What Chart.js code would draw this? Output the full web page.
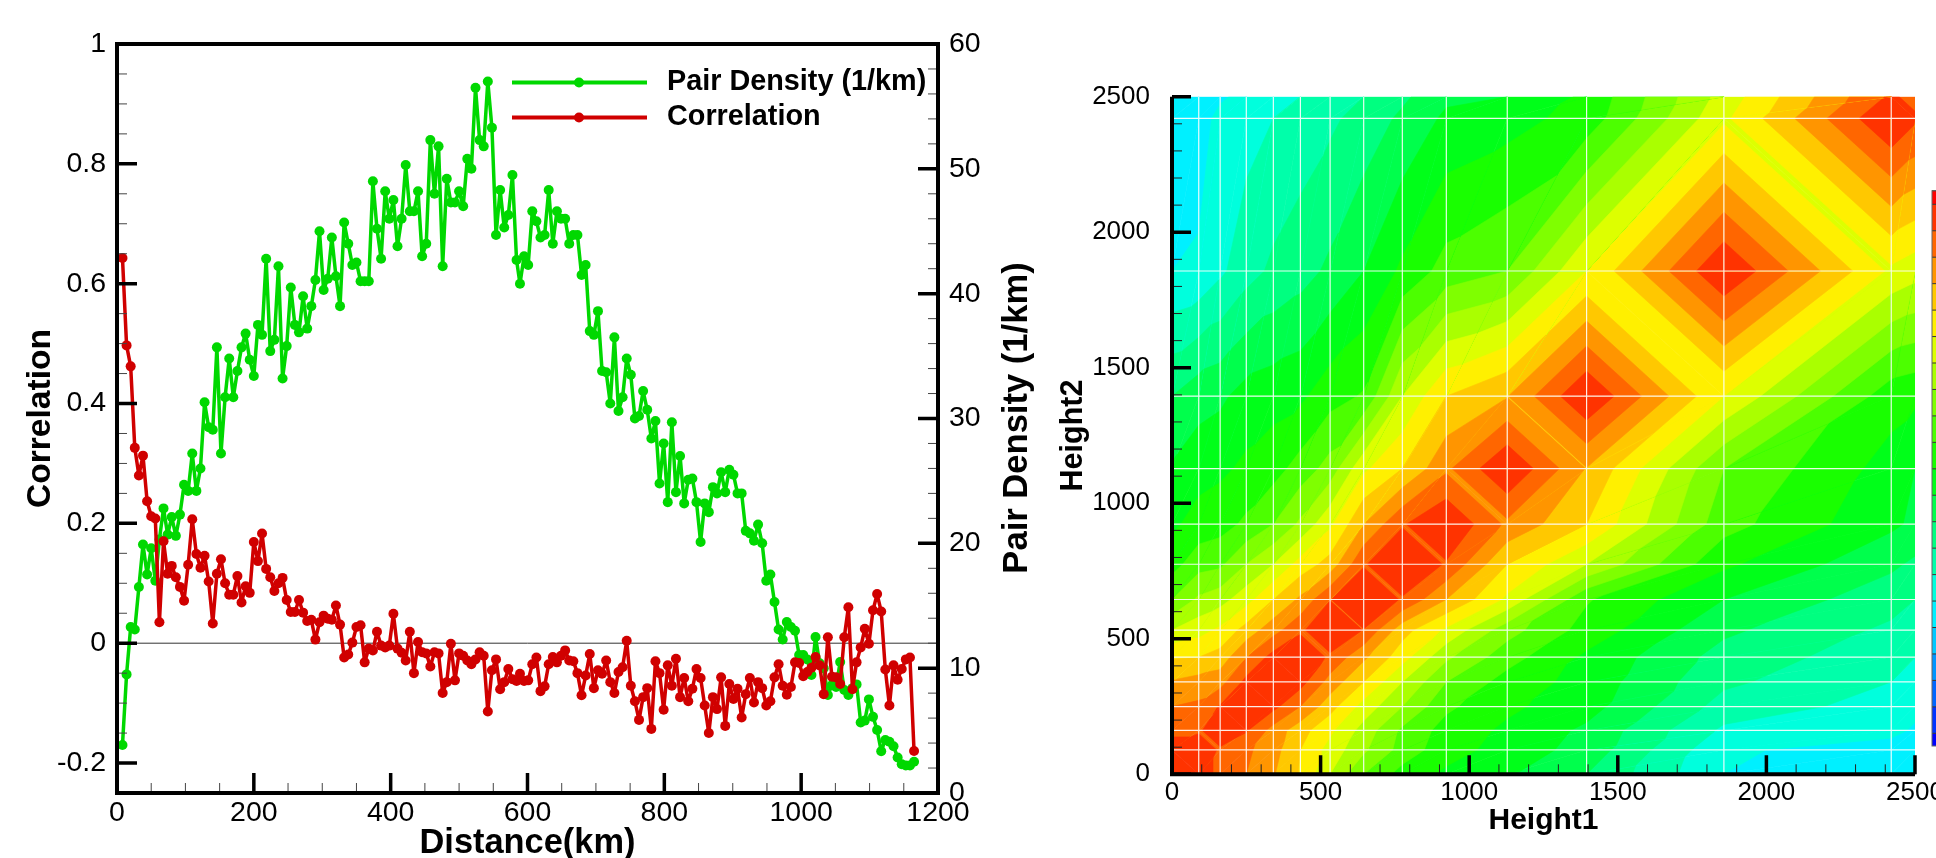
<!DOCTYPE html>
<html>
<head>
<meta charset="utf-8">
<title>Correlation and pair density</title>
<script src="https://cdn.jsdelivr.net/npm/chart.js@4/dist/chart.umd.min.js"></script>
<style>
  html, body { margin: 0; padding: 0; background: #fff; overflow: hidden; }
  canvas { position: absolute; top: 0; }
  #lineChart { left: 0; }
  #contourChart { left: 1036px; }
</style>
</head>
<body>
<canvas id="lineChart" width="1036" height="858"></canvas>
<canvas id="contourChart" width="960" height="858"></canvas>
<script>
// distance of each sample, km
const distance = [
  8,14,20,26,32,38,44,50,56,62,68,74,80,86,92,98,104,110,116,122,
  128,134,140,146,152,158,164,170,176,182,188,194,200,206,212,218,224,230,236,242,
  248,254,260,266,272,278,284,290,296,302,308,314,320,326,332,338,344,350,356,362,
  368,374,380,386,392,398,404,410,416,422,428,434,440,446,452,458,464,470,476,482,
  488,494,500,506,512,518,524,530,536,542,548,554,560,566,572,578,584,589,595,601,
  607,613,619,625,631,637,643,649,655,661,667,673,679,685,691,697,703,709,715,721,
  727,733,739,745,751,757,763,769,775,781,787,793,799,805,811,817,823,829,835,841,
  847,853,859,865,871,877,883,889,895,901,907,913,919,925,931,937,943,949,955,961,
  967,973,979,985,991,997,1003,1009,1015,1021,1027,1033,1039,1045,1051,1057,1063,1069,1075,1081,
  1087,1093,1099,1105,1111,1117,1123,1129,1135,1141,1147,1153,1159,1165
];
const pairDensity = [
  3.85,9.5,13.3,13.1,16.5,19.9,17.5,19.6,17.0,20.3,22.8,20.7,22.1,20.6,22.3,24.7,24.2,27.2,24.2,26.0,
  31.3,29.3,29.1,35.7,27.2,31.7,34.8,31.7,33.8,35.7,36.8,34.7,33.4,37.5,36.7,42.8,35.4,36.3,42.2,33.2,
  35.8,40.5,37.5,36.9,39.8,37.2,39.0,41.1,45.0,40.3,41.2,44.5,41.4,39.0,45.7,44.0,42.3,42.5,41.0,41.0,
  41.0,49.0,45.2,42.8,48.2,46.0,47.5,43.8,46.0,50.3,46.6,46.6,48.2,43.0,44.0,52.3,48.0,51.8,42.2,49.2,
  47.3,47.3,48.2,47.0,50.8,50.0,56.5,52.3,51.8,57.0,53.3,44.7,48.3,45.3,46.3,49.5,42.7,40.8,43.0,42.3,
  46.6,45.8,44.5,44.7,48.3,44.0,46.6,46.0,46.0,44.0,44.7,44.7,41.5,42.3,37.0,36.7,38.6,33.8,33.7,31.2,
  36.5,30.6,31.7,34.8,33.5,30.0,30.2,32.2,30.7,28.4,29.8,24.8,28.0,23.3,29.7,24.1,27.0,23.2,25.1,25.2,
  23.3,20.1,23.2,22.5,24.5,24.0,25.7,24.1,25.9,25.5,24.0,24.0,21.0,20.8,20.2,21.5,20.0,17.0,17.5,15.3,
  13.1,12.3,13.7,13.3,13.0,11.05,11.05,10.7,9.45,12.5,10.4,10.0,7.85,8.65,8.5,10.5,8.25,7.85,8.4,8.7,
  5.65,5.8,7.5,6.1,5.05,3.35,4.25,4.1,3.75,2.85,2.3,2.2,2.2,2.5
];
const correlation = [
  .643,.497,.462,.326,.280,.313,.237,.212,.208,.035,.170,.116,.129,.110,.094,.071,.131,.207,.149,.126,
  .146,.103,.033,.116,.140,.100,.081,.081,.112,.068,.095,.084,.169,.137,.183,.124,.110,.087,.100,.109,
  .072,.052,.052,.072,.051,.037,.039,.006,.035,.046,.041,.039,.063,.031,-.024,-.019,.001,.027,.030,-.032,
  -.009,-.012,.019,-.004,-.007,-.004,.049,-.009,-.016,-.029,.019,-.050,.002,-.015,-.017,-.039,-.015,-.017,-.083,-.065,
  -.001,-.062,-.017,-.021,-.029,-.035,-.027,-.015,-.021,-.114,-.045,-.027,-.077,-.065,-.043,-.060,-.063,-.051,-.063,-.062,
  -.035,-.024,-.080,-.072,-.035,-.023,-.032,-.021,-.012,-.029,-.030,-.050,-.087,-.054,-.018,-.075,-.045,-.051,-.029,-.065,
  -.083,-.048,-.040,.004,-.071,-.097,-.128,-.090,-.075,-.143,-.030,-.050,-.111,-.037,-.071,-.026,-.090,-.058,-.097,-.076,
  -.043,-.058,-.104,-.150,-.090,-.110,-.057,-.138,-.068,-.093,-.076,-.124,-.085,-.058,-.099,-.065,-.075,-.104,-.097,-.057,
  -.035,-.071,-.086,-.073,-.032,-.033,-.055,-.048,-.041,-.023,-.037,-.085,.010,-.056,-.057,-.068,.010,.060,-.077,-.032,
  -.007,.024,-.001,.055,.082,.053,-.044,-.104,-.037,-.061,-.043,-.027,-.024,-.180
];
const xTicks = [0, 200, 400, 600, 800, 1000, 1200];
const yTicks = [-0.2, 0, 0.2, 0.4, 0.6, 0.8, 1];
const y2Ticks = [0, 10, 20, 30, 40, 50, 60];

// height levels of the contour grid
const heights = [0, 90, 162, 250, 341, 432, 532, 645, 775, 923, 1128, 1395, 1857, 2420, 2500];
// upper triangle of the height/height correlation, one row per height
const corrRows = [
  [.97,.97,.94,.90,.855,.795,.70,.60,.53,.49,.455,.40,.25,.22,.20],
  [1,.94,.91,.87,.80,.73,.66,.58,.52,.48,.43,.26,.22,.21],
  [1,.955,.88,.82,.76,.68,.59,.53,.49,.44,.29,.27,.24],
  [1,.965,.90,.82,.73,.65,.56,.51,.47,.33,.28,.27],
  [1,.97,.88,.80,.70,.60,.53,.48,.36,.30,.28],
  [1,.94,.86,.77,.66,.57,.49,.38,.32,.30],
  [1,.948,.82,.74,.62,.53,.41,.34,.32],
  [1,.945,.85,.74,.555,.45,.37,.35],
  [1,.945,.80,.70,.51,.41,.39],
  [1,.89,.80,.57,.46,.44],
  [1,.848,.60,.48,.45],
  [1,.75,.52,.51],
  [1,.74,.72],
  [1,.96],
  [.93]
];
const heightTicks = [0, 500, 1000, 1500, 2000, 2500];
const levels = [0,.05,.1,.15,.2,.25,.3,.35,.4,.45,.5,.55,.6,.65,.7,.75,.8,.85,.9,.95,1];
const levelColors = [
  "#0000ff","#0033ff","#0066ff","#0095ff","#00c8ff","#00f0ff","#00ffdd","#00ffaa","#00ff80","#00ff4c","#00ff19",
  "#19ff00","#4cff00","#7fff00","#aaff00","#ddff00","#fff000","#ffc800","#ff9500","#ff6600","#ff3300","#ff0000"
];

const FONT = "'Liberation Sans', Arial, sans-serif";
const GREEN = "#00d800";
const RED = "#d00000";

function corrAt(i, j) {
  return i <= j ? corrRows[i][j - i] : corrRows[j][i - j];
}

function fixedTicks(list) {
  return (scale) => { scale.ticks = list.map((v) => ({ value: v })); };
}

function innerTicks(ctx, scale, from, to, step, len, width, color) {
  const area = scale.chart.chartArea;
  ctx.save();
  ctx.strokeStyle = color;
  ctx.lineWidth = width;
  ctx.beginPath();
  for (let v = from; v <= to + 1e-9; v += step) {
    const p = scale.getPixelForValue(v);
    if (scale.isHorizontal()) {
      ctx.moveTo(p, area.bottom);
      ctx.lineTo(p, area.bottom - len);
    } else if (scale.position === "right") {
      ctx.moveTo(area.right, p);
      ctx.lineTo(area.right - len, p);
    } else {
      ctx.moveTo(area.left, p);
      ctx.lineTo(area.left + len, p);
    }
  }
  ctx.stroke();
  ctx.restore();
}

const lineFrame = {
  id: "lineFrame",
  beforeDatasetsDraw(chart) {
    const { ctx, chartArea: a, scales } = chart;
    const zero = scales.y.getPixelForValue(0);
    ctx.save();
    ctx.strokeStyle = "#333";
    ctx.lineWidth = 1;
    ctx.beginPath();
    ctx.moveTo(a.left, zero);
    ctx.lineTo(a.right, zero);
    ctx.stroke();
    ctx.restore();
  },
  afterDraw(chart) {
    const { ctx, chartArea: a, scales } = chart;
    innerTicks(ctx, scales.x, 0, 1200, 50, 10, 1, "#444");
    innerTicks(ctx, scales.y, -0.25, 1, 0.05, 10, 1, "#444");
    innerTicks(ctx, scales.y2, 0, 60, 2, 10, 1, "#444");
    innerTicks(ctx, scales.x, 0, 1200, 200, 20, 3.5, "#000");
    innerTicks(ctx, scales.y, -0.2, 1, 0.2, 20, 3.5, "#000");
    innerTicks(ctx, scales.y2, 0, 60, 10, 20, 3.5, "#000");
    ctx.save();
    ctx.strokeStyle = "#000";
    ctx.lineWidth = 4;
    ctx.strokeRect(a.left, a.top, a.right - a.left, a.bottom - a.top);

    // legend, two rows of line + dot + label
    chart.data.datasets.forEach((ds, k) => {
      const y = 82.5 + k * 35;
      ctx.strokeStyle = ds.borderColor;
      ctx.fillStyle = ds.borderColor;
      ctx.lineWidth = 4;
      ctx.beginPath();
      ctx.moveTo(512, y);
      ctx.lineTo(647, y);
      ctx.stroke();
      ctx.beginPath();
      ctx.arc(579, y, 5, 0, Math.PI * 2);
      ctx.fill();
      ctx.fillStyle = "#000";
      ctx.font = "bold 28.8px " + FONT;
      ctx.textBaseline = "middle";
      ctx.textAlign = "left";
      ctx.fillText(ds.label, 667, y);
    });

    // right axis title reads bottom to top
    ctx.translate(1017, 418);
    ctx.rotate(-Math.PI / 2);
    ctx.fillStyle = "#000";
    ctx.font = "bold 34.6px " + FONT;
    ctx.textAlign = "center";
    ctx.textBaseline = "middle";
    ctx.fillText("Pair Density (1/km)", 0, 0);
    ctx.restore();
  }
};

// polygon part of a triangle at or above level lv
function clipAbove(poly, lv) {
  const out = [];
  for (let i = 0; i < poly.length; i++) {
    const p = poly[i];
    const q = poly[(i + 1) % poly.length];
    if (p.v >= lv) out.push(p);
    if ((p.v >= lv) !== (q.v >= lv)) {
      const t = (lv - p.v) / (q.v - p.v);
      out.push({ x: p.x + t * (q.x - p.x), y: p.y + t * (q.y - p.y), v: lv });
    }
  }
  return out;
}

function fillPoly(ctx, poly, color) {
  if (poly.length < 3) return;
  ctx.fillStyle = color;
  ctx.strokeStyle = color;
  ctx.lineWidth = 0.6;
  ctx.beginPath();
  poly.forEach((p, i) => (i ? ctx.lineTo(p.x, p.y) : ctx.moveTo(p.x, p.y)));
  ctx.closePath();
  ctx.fill();
  ctx.stroke();
}

function drawTriangle(ctx, tri) {
  let band = 0;
  while (band < levels.length && Math.min(tri[0].v, tri[1].v, tri[2].v) >= levels[band]) band++;
  fillPoly(ctx, tri, levelColors[band]);
  for (let k = band; k < levels.length - 1; k++) {
    const part = clipAbove(tri, levels[k]);
    if (part.length < 3) break;
    fillPoly(ctx, part, levelColors[k + 1]);
  }
}

const contour = {
  id: "contour",
  beforeDatasetsDraw(chart) {
    const { ctx, chartArea: a, scales: { x, y } } = chart;
    const node = (i, j) => ({
      x: x.getPixelForValue(heights[i]),
      y: y.getPixelForValue(heights[j]),
      v: corrAt(i, j)
    });
    ctx.save();
    ctx.beginPath();
    ctx.rect(a.left, a.top, a.right - a.left, a.bottom - a.top);
    ctx.clip();
    for (let i = 0; i < heights.length - 1; i++) {
      for (let j = 0; j < heights.length - 1; j++) {
        const p00 = node(i, j), p10 = node(i + 1, j), p01 = node(i, j + 1), p11 = node(i + 1, j + 1);
        // split along the diagonal whose ends are closest in value, cells on the ridge split across it
        if (Math.abs(p00.v - p11.v) < Math.abs(p10.v - p01.v)) {
          drawTriangle(ctx, [p00, p10, p11]);
          drawTriangle(ctx, [p00, p11, p01]);
        } else {
          drawTriangle(ctx, [p00, p10, p01]);
          drawTriangle(ctx, [p10, p11, p01]);
        }
      }
    }
    // white mesh lines at the grid heights
    ctx.strokeStyle = "rgba(255,255,255,0.9)";
    ctx.lineWidth = 1.2;
    ctx.beginPath();
    heights.slice(1, -1).forEach((h) => {
      const px = x.getPixelForValue(h), py = y.getPixelForValue(h);
      ctx.moveTo(px, a.top);
      ctx.lineTo(px, a.bottom);
      ctx.moveTo(a.left, py);
      ctx.lineTo(a.right, py);
    });
    ctx.stroke();
    ctx.restore();
  },
  afterDraw(chart) {
    const { ctx, chartArea: a, scales: { x, y } } = chart;
    innerTicks(ctx, x, 0, 2500, 100, 10, 1, "#222");
    innerTicks(ctx, y, 0, 2500, 100, 10, 1, "#222");
    innerTicks(ctx, x, 0, 2500, 500, 19, 3.5, "#000");
    innerTicks(ctx, y, 0, 2500, 500, 19, 3.5, "#000");
    ctx.save();
    ctx.strokeStyle = "#000";
    ctx.lineWidth = 4;
    ctx.beginPath();
    ctx.moveTo(a.left, a.top);
    ctx.lineTo(a.left, a.bottom);
    ctx.lineTo(a.right, a.bottom);
    ctx.stroke();

    // colour bar, only its left edge is inside the picture
    const barLeft = 896, barW = 30, first = 204.3, step = 26.45;
    const bandTop = (k) => (k === 0 ? 190.7 : first + (k - 1) * step);
    for (let k = 0; k < levelColors.length; k++) {
      const top = bandTop(k), bottom = k === levelColors.length - 1 ? 746 : bandTop(k + 1);
      ctx.fillStyle = levelColors[levelColors.length - 1 - k];
      ctx.fillRect(barLeft, top, barW, bottom - top);
      ctx.fillStyle = "#333";
      ctx.fillRect(barLeft, top - 0.5, barW, 1);
    }
    ctx.strokeStyle = "#666";
    ctx.lineWidth = 1;
    ctx.strokeRect(barLeft, 190.7, barW, 746 - 190.7);
    ctx.restore();
  }
};

new Chart(document.getElementById("lineChart"), {
  type: "line",
  data: {
    labels: distance,
    datasets: [
      {
        label: "Pair Density (1/km)",
        data: distance.map((d, i) => ({ x: d, y: pairDensity[i] })),
        yAxisID: "y2",
        borderColor: GREEN,
        backgroundColor: GREEN,
        borderWidth: 3.5,
        borderJoinStyle: "round",
        pointRadius: 5,
        pointBorderWidth: 0,
        tension: 0,
        order: 2
      },
      {
        label: "Correlation",
        data: distance.map((d, i) => ({ x: d, y: correlation[i] })),
        yAxisID: "y",
        borderColor: RED,
        backgroundColor: RED,
        borderWidth: 3.5,
        borderJoinStyle: "round",
        pointRadius: 5,
        pointBorderWidth: 0,
        tension: 0,
        order: 1
      }
    ]
  },
  options: {
    responsive: false,
    animation: false,
    layout: { padding: { top: 44 } },
    plugins: { legend: { display: false }, tooltip: { enabled: false } },
    scales: {
      x: {
        type: "linear",
        min: 0,
        max: 1200,
        afterBuildTicks: fixedTicks(xTicks),
        afterFit: (s) => { s.height = 65; },
        grid: { display: false, drawTicks: false },
        border: { display: false },
        ticks: { color: "#000", padding: 3, maxRotation: 0, font: { family: FONT, size: 28.5 }, callback: (v) => String(v) },
        title: { display: true, text: "Distance(km)", color: "#000", padding: { top: 0, bottom: -3 }, font: { family: FONT, size: 34.4, weight: "bold", lineHeight: 1 } }
      },
      y: {
        position: "left",
        min: -0.25,
        max: 1,
        afterBuildTicks: fixedTicks(yTicks),
        afterFit: (s) => { s.width = 117; },
        grid: { display: false, drawTicks: false },
        border: { display: false },
        ticks: { color: "#000", padding: 11, font: { family: FONT, size: 28.5 }, callback: (v) => String(v) },
        title: { display: true, text: "Correlation", color: "#000", padding: { top: 21, bottom: 0 }, font: { family: FONT, size: 33.6, weight: "bold" } }
      },
      y2: {
        position: "right",
        min: 0,
        max: 60,
        afterBuildTicks: fixedTicks(y2Ticks),
        afterFit: (s) => { s.width = 98; },
        grid: { display: false, drawTicks: false },
        border: { display: false },
        ticks: { color: "#000", padding: 11, font: { family: FONT, size: 28.5 }, callback: (v) => String(v) }
      }
    }
  },
  plugins: [lineFrame]
});

new Chart(document.getElementById("contourChart"), {
  type: "scatter",
  data: {
    datasets: [{
      label: "Correlation",
      data: heights.flatMap((h1, i) => heights.map((h2, j) => ({ x: h1, y: h2, v: corrAt(i, j) }))),
      pointRadius: 0
    }]
  },
  options: {
    responsive: false,
    animation: false,
    layout: { padding: { top: 96.7, right: 81 } },
    plugins: { legend: { display: false }, tooltip: { enabled: false } },
    scales: {
      x: {
        type: "linear",
        min: 0,
        max: 2500,
        afterBuildTicks: fixedTicks(heightTicks),
        afterFit: (s) => { s.height = 83.7; },
        grid: { display: false, drawTicks: false },
        border: { display: false },
        ticks: { color: "#000", padding: 3, maxRotation: 0, font: { family: FONT, size: 26 }, callback: (v) => String(v) },
        title: { display: true, text: "Height1", color: "#000", padding: { top: 0, bottom: 22 }, font: { family: FONT, size: 30, weight: "bold", lineHeight: 1 } }
      },
      y: {
        min: 0,
        max: 2500,
        afterBuildTicks: fixedTicks(heightTicks),
        afterFit: (s) => { s.width = 136; },
        grid: { display: false, drawTicks: false },
        border: { display: false },
        ticks: { color: "#000", padding: 22, font: { family: FONT, size: 26 }, callback: (v) => String(v) },
        title: { display: true, text: "Height2", color: "#000", padding: { top: 19, bottom: 0 }, font: { family: FONT, size: 30.5, weight: "bold" } }
      }
    }
  },
  plugins: [contour]
});
</script>
</body>
</html>
